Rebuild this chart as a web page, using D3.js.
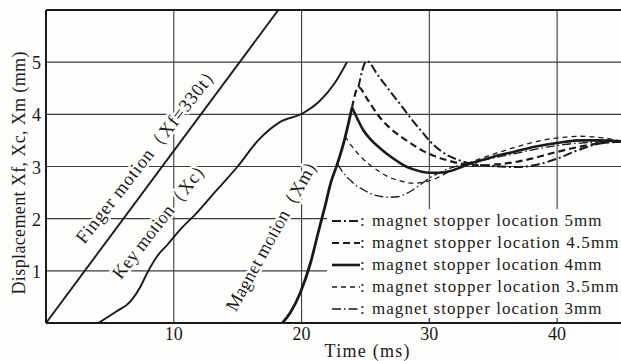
<!DOCTYPE html>
<html>
<head>
<meta charset="utf-8">
<script src="https://cdn.jsdelivr.net/npm/d3@7"></script>
<style>
  html, body { margin: 0; padding: 0; background: #fdfdfb; }
  svg { display: block; font-family: "Liberation Serif", "DejaVu Serif", serif; }
</style>
</head>
<body>
<svg id="chart" width="621" height="361"></svg>
<script>
// ---- axis ticks ----
const xTicks = [10, 20, 30, 40];
const yTicks = [1, 2, 3, 4, 5];

// ---- finger motion: Xf = 330 t  (330 mm/s = 0.33 mm per ms) ----
const fingerRate = 0.33;
const fingerTime = [0, 18.2];

// ---- key motion Xc ----
const keyTime = [4.1, 5.5, 6.6, 7.4, 7.9, 8.7, 9.5, 10.5, 11.8, 12.9, 14.0, 15.0, 16.6, 18.3, 20.1, 21.4, 22.6, 23.55];
const keyDisp = [0, 0.22, 0.41, 0.7, 0.95, 1.28, 1.5, 1.79, 2.11, 2.42, 2.72, 3.0, 3.5, 3.85, 4.02, 4.25, 4.6, 5.0];

// ---- magnet motion Xm (free rise until it meets the stopper) ----
const magnetTime = [18.5, 19.1, 19.9, 20.7, 21.3, 21.85, 22.3, 22.8, 23.4, 23.95, 24.45, 25.1];
const magnetDisp = [0, 0.19, 0.58, 1.15, 1.73, 2.25, 2.7, 3.05, 3.55, 4.13, 4.52, 5.02];

// ---- rebound after hitting the stopper ----
const stop5Time  = [25.1, 26.0, 26.9, 27.7, 28.5, 29.3, 30.06, 31.0, 32.0, 33.0, 34.0, 35.5, 37.0, 38.5, 40.0, 41.5, 43.0, 44.2, 45];
const stop5Disp  = [5.02, 4.74, 4.45, 4.2, 3.94, 3.7, 3.48, 3.28, 3.15, 3.07, 3.03, 3.0, 2.99, 3.04, 3.15, 3.3, 3.42, 3.47, 3.48];
const stop45Time = [24.45, 25.2, 26.1, 27.0, 27.8, 28.7, 29.5, 30.4, 31.4, 32.6, 34.0, 35.3, 36.6, 38.0, 39.2, 40.5, 41.8, 43.2, 45];
const stop45Disp = [4.52, 4.27, 3.95, 3.72, 3.57, 3.42, 3.3, 3.2, 3.12, 3.05, 3.02, 3.04, 3.08, 3.15, 3.23, 3.31, 3.38, 3.44, 3.48];
const stop4Time  = [23.95, 24.4, 24.8, 25.4, 26.1, 26.8, 27.5, 28.1, 28.7, 29.4, 30.06, 30.8, 31.4, 32.0, 32.6, 33.4, 34.5, 35.5, 36.6, 37.9, 39.2, 40.5, 41.8, 43.2, 45];
const stop4Disp  = [4.13, 3.9, 3.71, 3.52, 3.36, 3.22, 3.1, 3.01, 2.95, 2.9, 2.88, 2.88, 2.9, 2.94, 3.0, 3.07, 3.15, 3.22, 3.28, 3.36, 3.42, 3.47, 3.5, 3.5, 3.48];
const stop35Time = [23.4, 23.9, 24.4, 24.8, 25.4, 26.1, 26.8, 27.5, 28.1, 28.7, 29.3, 29.9, 30.6, 31.4, 32.0, 32.6, 33.3, 34.0, 35.3, 36.6, 37.9, 39.2, 40.5, 41.8, 43.2, 45];
const stop35Disp = [3.58, 3.4, 3.25, 3.15, 3.02, 2.9, 2.8, 2.74, 2.7, 2.68, 2.69, 2.72, 2.78, 2.88, 2.95, 3.02, 3.09, 3.15, 3.26, 3.36, 3.45, 3.52, 3.56, 3.58, 3.56, 3.49];
const stop3Time  = [22.8, 23.3, 23.8, 24.3, 24.8, 25.4, 26.1, 26.8, 27.5, 28.1, 28.7, 29.4, 30.06, 30.8, 31.4, 32.2, 33.0, 34.0, 35.3, 36.6, 37.9, 39.2, 40.5, 41.8, 43.2, 45];
const stop3Disp  = [3.05, 2.87, 2.74, 2.63, 2.56, 2.48, 2.43, 2.41, 2.42, 2.47, 2.55, 2.67, 2.79, 2.88, 2.95, 3.01, 3.06, 3.11, 3.18, 3.24, 3.31, 3.37, 3.42, 3.45, 3.47, 3.48];

const stopperNames = ["5mm", "4.5mm", "4mm", "3.5mm", "3mm"];

// ---- layout ----
const svg = d3.select("#chart");
const W = 621, H = 361;
const plot = { left: 46, top: 10, right: 621, bottom: 323 };

const x = d3.scaleLinear().domain([0, 45]).range([plot.left, plot.right]);
const y = d3.scaleLinear().domain([0, 6]).range([plot.bottom, plot.top]);

const ink = "#1a1a1a";
const gridInk = "#3c3c3c";
const paper = "#fdfdfb";

svg.append("rect").attr("width", W).attr("height", H).attr("fill", paper);

svg.append("defs").append("clipPath").attr("id", "plotClip")
  .append("rect")
  .attr("x", plot.left).attr("y", plot.top)
  .attr("width", plot.right - plot.left).attr("height", plot.bottom - plot.top);

// ---- grid ----
const grid = svg.append("g").attr("stroke", gridInk).attr("stroke-width", 1.1);
grid.selectAll("line.v").data(xTicks).join("line")
  .attr("x1", d => x(d)).attr("x2", d => x(d))
  .attr("y1", plot.top).attr("y2", plot.bottom);
grid.selectAll("line.h").data(yTicks).join("line")
  .attr("x1", plot.left).attr("x2", plot.right)
  .attr("y1", d => y(d)).attr("y2", d => y(d));

// ---- frame ----
const frame = svg.append("g").attr("stroke", ink).attr("stroke-width", 2).attr("fill", "none");
frame.append("line").attr("x1", plot.left).attr("x2", plot.right).attr("y1", plot.top).attr("y2", plot.top);
frame.append("line").attr("x1", plot.left).attr("x2", plot.left).attr("y1", plot.top).attr("y2", plot.bottom);
frame.append("line").attr("x1", plot.left).attr("x2", plot.right).attr("y1", plot.bottom).attr("y2", plot.bottom);

// ---- tick labels ----
svg.append("g").attr("font-size", 18).attr("fill", ink).attr("text-anchor", "middle")
  .selectAll("text").data(xTicks).join("text")
  .attr("x", d => x(d)).attr("y", plot.bottom + 17)
  .text(d => d);
svg.append("g").attr("font-size", 18).attr("fill", ink).attr("text-anchor", "end")
  .selectAll("text").data(yTicks).join("text")
  .attr("x", plot.left - 5).attr("y", d => y(d) + 7)
  .text(d => d);

// ---- axis titles ----
svg.append("text")
  .attr("x", 367).attr("y", 357)
  .attr("text-anchor", "middle").attr("font-size", 18).attr("fill", ink)
  .attr("textLength", 85).attr("lengthAdjust", "spacing")
  .text("Time (ms)");
svg.append("text")
  .attr("transform", "translate(25,173) rotate(-90)")
  .attr("text-anchor", "middle").attr("font-size", 18).attr("fill", ink)
  .attr("textLength", 243).attr("lengthAdjust", "spacing")
  .text("Displacement Xf, Xc, Xm (mm)");

// ---- curve labels (white halo breaks the grid behind them) ----
const curveLabels = [
  { text: "Finger motion（Xf=330t）", t: 3.0, v: 1.5,  angle: -52, len: 222 },
  { text: "Key motion（Xc）",         t: 5.85, v: 0.82, angle: -52, len: 148 },
  { text: "Magnet motion（Xm）",      t: 14.85, v: 0.2, angle: -61, len: 178 }
];
const lab = svg.append("g").attr("font-size", 18.5).attr("fill", ink);
lab.selectAll("text").data(curveLabels).join("text")
  .attr("transform", d => `translate(${x(d.t)},${y(d.v)}) rotate(${d.angle})`)
  .attr("textLength", d => d.len).attr("lengthAdjust", "spacing")
  .attr("stroke", paper).attr("stroke-width", 5).attr("paint-order", "stroke")
  .attr("stroke-linejoin", "round")
  .text(d => d.text);

// ---- legend box ----
const legend = { left: 327, top: 209, right: 621, bottom: 318 };
svg.append("rect")
  .attr("x", legend.left).attr("y", legend.top)
  .attr("width", legend.right - legend.left).attr("height", legend.bottom - legend.top)
  .attr("fill", paper);
// tick at 30 ms peeking below the legend box
svg.append("line").attr("stroke", gridInk).attr("stroke-width", 1.1)
  .attr("x1", x(30)).attr("x2", x(30)).attr("y1", legend.bottom).attr("y2", plot.bottom);

// ---- curves ----
const curves = svg.append("g").attr("clip-path", "url(#plotClip)").attr("fill", "none")
  .attr("stroke", ink).attr("stroke-linejoin", "round");

const line = d3.line().x(d => x(d[0])).y(d => y(d[1])).curve(d3.curveMonotoneX);
const zip = (ts, vs) => ts.map((t, i) => [t, vs[i]]);

// finger
curves.append("path")
  .attr("d", d3.line().x(d => x(d[0])).y(d => y(d[1]))(fingerTime.map(t => [t, fingerRate * t])))
  .attr("stroke-width", 1.9);

// key
curves.append("path").attr("d", line(zip(keyTime, keyDisp))).attr("stroke-width", 1.9);

// stopper series styles
const magnetPts = zip(magnetTime, magnetDisp);
const stopSeries = [
  { name: "5mm",   pts: zip(stop5Time, stop5Disp),   width: 2.0, dash: "9,3,2,3" },
  { name: "4.5mm", pts: zip(stop45Time, stop45Disp), width: 2.2, dash: "7,4" },
  { name: "4mm",   pts: zip(stop4Time, stop4Disp),   width: 2.6, dash: null },
  { name: "3.5mm", pts: zip(stop35Time, stop35Disp), width: 1.3, dash: "5,4" },
  { name: "3mm",   pts: zip(stop3Time, stop3Disp),   width: 1.3, dash: "9,3,1.5,3" }
];

// magnet rise up to the 4 mm stopper: common thick solid trace
const peak4 = stop4Time[0];
curves.append("path")
  .attr("d", line(magnetPts.filter(p => p[0] <= peak4 + 1e-9)))
  .attr("stroke-width", 2.8);

// each higher stopper continues the rise from the next lower stop
const peaks = stopSeries.map(s => s.pts[0][0]).sort((a, b) => a - b);
stopSeries.forEach(s => {
  const pk = s.pts[0][0];
  const lower = peaks.filter(p => p < pk && p >= peak4);
  const from = lower.length ? d3.max(lower) : pk;
  const rise = magnetPts.filter(p => p[0] >= from - 1e-9 && p[0] < pk - 1e-9);
  curves.append("path")
    .attr("d", line(rise.concat(s.pts)))
    .attr("stroke-width", s.width)
    .attr("stroke-dasharray", s.dash);
});

// ---- legend entries ----
const rowBase = [226, 248, 270, 292, 314];
const lg = svg.append("g").attr("font-size", 17).attr("fill", ink);
stopSeries.forEach((s, i) => {
  const b = rowBase[i];
  lg.append("line")
    .attr("x1", 332).attr("x2", 360).attr("y1", b - 5).attr("y2", b - 5)
    .attr("stroke", ink).attr("stroke-width", s.width)
    .attr("stroke-dasharray", s.dash);
  lg.append("text").attr("x", 360).attr("y", b).text(":");
  const label = "magnet stopper location " + stopperNames[i];
  lg.append("text").attr("x", 372).attr("y", b)
    .attr("textLength", label.length * 8.5).attr("lengthAdjust", "spacing")
    .text(label);
});
</script>
</body>
</html>
